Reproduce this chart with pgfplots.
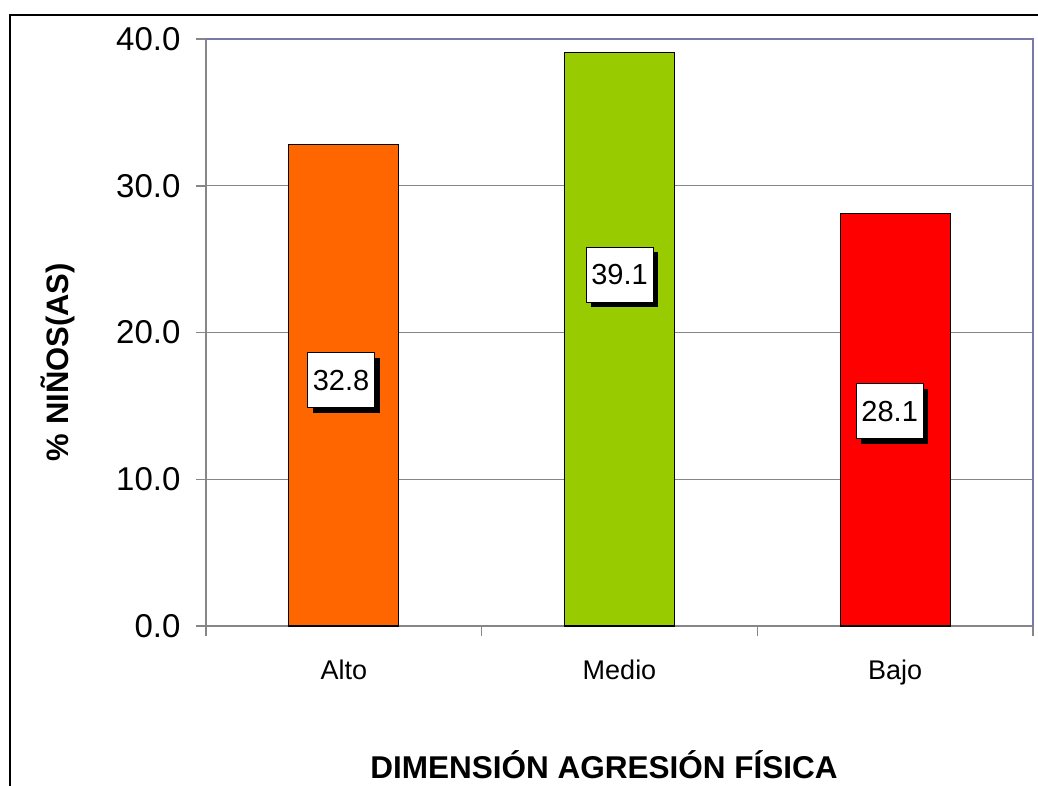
\documentclass[border=0pt]{standalone}
\usepackage{pgfplots}
\pgfplotsset{compat=1.18}
\usepackage{fontspec}
\setmainfont{Liberation Sans}
\usetikzlibrary{shadows}

\definecolor{gridgray}{HTML}{868686}
\definecolor{framepurple}{HTML}{7878AA}
\definecolor{baralto}{HTML}{FF6600}
\definecolor{barmedio}{HTML}{99CC00}
\definecolor{barbajo}{HTML}{FF0000}

\begin{document}
\begin{tikzpicture}[x=1pt,y=1pt]
% outer chart frame (only top and left edges are in view)
\draw[line width=2.5pt] (10,-900) -- (10,-15) -- (1200,-15);

\begin{axis}[
    at={(206pt,-626pt)}, anchor=south west,
    scale only axis,
    width=827pt, height=587pt,
    ybar, bar width=110pt,
    xmin=-0.5, xmax=2.5,
    ymin=0, ymax=40,
    ytick={0,10,20,30,40},
    xtick={0,1,2},
    xticklabels={Alto,Medio,Bajo},
    minor xtick={-0.5,0.5,1.5,2.5},
    tick pos=left, tick align=outside,
    major tick length=10pt, minor tick length=10pt,
    major x tick style={draw=none},
    every tick/.style={gridgray, line width=1.5pt},
    minor tick style={gridgray, line width=1.5pt},
    ymajorgrids,
    major grid style={gridgray, line width=1.2pt},
    axis line style={gridgray, line width=1.5pt},
    /pgf/number format/assume math mode=true,
    /pgf/number format/fixed,
    /pgf/number format/fixed zerofill,
    /pgf/number format/precision=1,
    yticklabel style={font=\fontsize{33}{37}\selectfont, xshift=-12pt},
    xticklabel style={font=\fontsize{27}{31}\selectfont, yshift=-20pt},
    clip=false,
]
\addplot[draw=black, line width=1.2pt, fill=baralto, bar shift=0pt] coordinates {(0,32.8)};
\addplot[draw=black, line width=1.2pt, fill=barmedio, bar shift=0pt] coordinates {(1,39.1)};
\addplot[draw=black, line width=1.2pt, fill=barbajo, bar shift=0pt] coordinates {(2,28.1)};

% purple plot-area border on top and right
\draw[framepurple, line width=2pt] (rel axis cs:0,1) -- (rel axis cs:1,1) -- (rel axis cs:1,0);

% data labels
\tikzset{vlab/.style={draw=black, line width=1pt, fill=white,
    minimum width=67pt, minimum height=55pt, inner sep=0pt,
    font=\fontsize{29}{33}\selectfont,
    drop shadow={shadow xshift=5pt, shadow yshift=-5pt, fill=black, opacity=1}}}
\node[vlab] at (axis cs:-0.01,16.76) {32.8};
\node[vlab] at (axis cs:1.0,23.95) {39.1};
\node[vlab] at (axis cs:1.98,14.65) {28.1};
\end{axis}

\node[rotate=90, font=\bfseries\fontsize{31}{35}\selectfont] at (58,-362) {\% NIÑOS(AS)};
\node[font=\bfseries\fontsize{31.5}{35}\selectfont] at (604,-765) {DIMENSIÓN AGRESIÓN FÍSICA};

\pgfresetboundingbox
\path[use as bounding box] (0,0) rectangle (1038,-785);
\end{tikzpicture}
\end{document}
